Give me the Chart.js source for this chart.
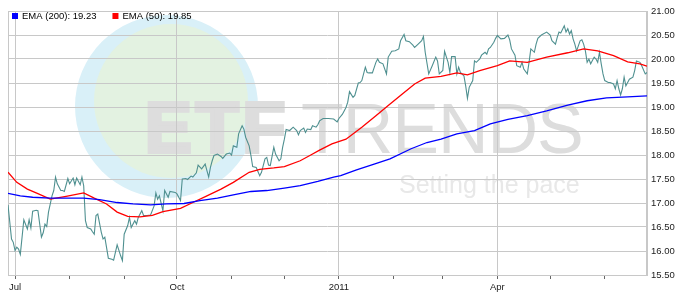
<!DOCTYPE html>
<html>
<head>
<meta charset="utf-8">
<script src="https://cdn.jsdelivr.net/npm/chart.js@4.4.1/dist/chart.umd.min.js"></script>
<style>
  html, body { margin: 0; padding: 0; background: #fff; }
  #wrap { width: 680px; height: 294px; }
</style>
</head>
<body>
<div id="wrap"><canvas id="etfChart"></canvas></div>
<script>
// x values are calendar days counted from 1 Jul 2010
const xMin = -4;
const xMax = 359;

const monthDays = [0, 31, 62, 92, 123, 153, 184, 215, 243, 274, 304, 335];
const monthLabels = ['Jul', '', '', 'Oct', '', '', '2011', '', '', 'Apr', '', ''];
const yTicks = [15.5, 16, 16.5, 17, 17.5, 18, 18.5, 19, 19.5, 20, 20.5, 21];

const priceDays = [
  -4, -2, -1, 0, 1, 2, 3, 5, 7, 8, 9, 10, 12, 13, 15, 16, 17, 18, 19, 21,
  22, 23, 24, 26, 27, 28, 30, 31, 33, 34, 35, 37, 38, 39, 40, 41, 43, 44, 45, 46,
  47, 49, 50, 51, 53, 55, 56, 58, 60, 61, 62, 64, 65, 66, 68, 69, 70, 72, 73, 75,
  77, 79, 80, 81, 82, 84, 85, 87, 88, 91, 92, 94, 95, 97, 98, 100, 101, 103, 104, 106,
  108, 110, 111, 112, 113, 115, 117, 118, 120, 122, 123, 124, 126, 127, 129, 130, 131, 133, 134, 135,
  137, 139, 140, 142, 143, 144, 145, 147, 148, 150, 151, 152, 153, 154, 156, 158, 160, 161, 162, 164,
  165, 166, 168, 169, 171, 172, 173, 175, 178, 181, 183, 184, 186, 188, 189, 190, 192, 193, 195, 196,
  197, 199, 200, 201, 203, 205, 206, 207, 209, 211, 212, 214, 216, 218, 219, 221, 222, 224, 226, 227,
  229, 231, 232, 233, 235, 237, 239, 240, 241, 243, 244, 246, 247, 248, 250, 251, 252, 253, 255, 256,
  257, 258, 260, 261, 262, 264, 265, 267, 268, 269, 270, 272, 273, 274, 276, 278, 280, 281, 282, 284,
  285, 287, 288, 289, 291, 292, 293, 295, 296, 297, 299, 302, 304, 305, 307, 308, 309, 310, 312, 313,
  314, 315, 316, 317, 318, 319, 321, 322, 323, 324, 325, 326, 327, 329, 330, 331, 332, 333, 334, 335,
  337, 338, 340, 341, 342, 343, 344, 345, 346, 347, 348, 349, 351, 352, 353, 355, 356, 358, 359
];
const priceValues = [
  16.96, 16.25, 16.18, 16.01, 16.08, 16.04, 15.93, 16.65, 16.46, 16.65, 16.48, 16.83, 16.85, 16.84, 16.29, 16.38, 16.56, 16.51, 16.81, 17.15,
  17.26, 17.54, 17.40, 17.26, 17.26, 17.24, 17.51, 17.40, 17.52, 17.38, 17.52, 17.38, 17.54, 17.36, 16.63, 16.49, 16.46, 16.40, 16.35, 16.74,
  16.77, 16.39, 16.25, 16.29, 15.85, 15.83, 15.81, 16.13, 15.90, 15.80, 16.35, 16.53, 16.70, 16.49, 16.63, 16.56, 16.70, 16.84, 16.74, 16.74,
  16.75, 16.94, 17.21, 17.08, 17.15, 16.84, 17.26, 17.12, 17.24, 17.22, 17.19, 17.05, 17.50, 17.51, 17.49, 17.56, 17.54, 17.63, 17.79, 17.71,
  17.81, 17.54, 17.74, 17.88, 17.99, 18.02, 17.97, 17.93, 18.02, 18.04, 18.00, 18.19, 18.16, 18.44, 18.61, 18.54, 18.37, 18.19, 17.99, 17.76,
  17.74, 17.57, 17.64, 17.92, 17.95, 17.79, 17.78, 18.16, 18.02, 17.88, 17.92, 18.16, 18.33, 18.53, 18.51, 18.58, 18.51, 18.42, 18.51, 18.56,
  18.47, 18.54, 18.53, 18.61, 18.58, 18.63, 18.71, 18.76, 18.76, 18.75, 18.69, 18.76, 18.85, 18.99, 19.10, 19.32, 19.20, 19.24, 19.50, 19.51,
  19.55, 19.83, 19.72, 19.71, 19.71, 19.93, 20.00, 19.93, 19.90, 19.69, 20.04, 20.16, 20.17, 20.21, 20.38, 20.51, 20.38, 20.36, 20.29, 20.24,
  20.31, 20.38, 20.47, 20.14, 19.69, 19.86, 20.04, 19.96, 19.69, 19.76, 20.16, 19.93, 19.72, 20.05, 20.05, 19.69, 19.83, 19.72, 19.65, 19.44,
  19.18, 19.41, 19.55, 19.96, 19.93, 20.00, 20.08, 20.14, 20.10, 20.21, 20.24, 20.35, 20.43, 20.49, 20.42, 20.43, 20.50, 20.40, 20.21, 20.08,
  19.86, 19.83, 19.93, 19.79, 19.69, 19.93, 20.21, 20.14, 20.31, 20.43, 20.50, 20.56, 20.50, 20.38, 20.31, 20.45, 20.56, 20.54, 20.69, 20.56,
  20.63, 20.52, 20.59, 20.42, 20.31, 20.17, 20.38, 20.40, 20.31, 20.17, 19.93, 20.00, 19.90, 20.04, 20.00, 19.93, 20.14, 19.90, 19.69, 19.55,
  19.51, 19.51, 19.48, 19.38, 19.55, 19.38, 19.25, 19.38, 19.62, 19.44, 19.51, 19.58, 19.62, 19.76, 19.96, 19.93, 19.86, 19.69, 19.72
];

const ema200Days = [-4, 3, 10, 20, 29, 39, 48, 58, 67, 77, 86, 96, 105, 115, 124, 134, 143, 153, 162, 172,
  181, 185, 194, 204, 213, 225, 234, 242, 251, 261, 270, 280, 291, 302, 314, 325, 336, 348, 359];
const ema200Values = [17.20, 17.15, 17.12, 17.10, 17.10, 17.10, 17.07, 17.01, 16.98, 16.96, 16.98, 16.99, 17.05, 17.10, 17.17, 17.24, 17.26, 17.31, 17.36, 17.45,
  17.54, 17.57, 17.69, 17.81, 17.92, 18.13, 18.26, 18.33, 18.44, 18.51, 18.65, 18.74, 18.82, 18.92, 19.04, 19.13, 19.19, 19.21, 19.23];

const ema50Days = [-4, 1, 7, 12, 20, 29, 39, 45, 52, 58, 64, 71, 78, 84, 94, 101, 109, 117, 124, 133,
  139, 147, 153, 162, 168, 173, 180, 188, 197, 205, 212, 220, 227, 233, 242, 251, 257, 264, 274, 281,
  291, 302, 314, 323, 331, 340, 348, 355, 359];
const ema50Values = [17.64, 17.43, 17.29, 17.21, 17.08, 17.14, 17.21, 17.10, 16.98, 16.81, 16.72, 16.71, 16.74, 16.82, 16.89, 17.01, 17.15, 17.29, 17.43, 17.64,
  17.70, 17.73, 17.76, 17.88, 18.00, 18.10, 18.23, 18.33, 18.58, 18.82, 19.03, 19.27, 19.48, 19.60, 19.64, 19.71, 19.67, 19.76, 19.86, 19.96,
  19.93, 20.04, 20.13, 20.21, 20.17, 20.07, 19.94, 19.90, 19.85];

const toPoints = (xs, ys) => xs.map((x, i) => ({ x: x, y: ys[i] }));
const last = arr => arr[arr.length - 1];

const FONT = '"Liberation Sans", Arial, sans-serif';
const gridColor = '#c8c8c8';

// logo watermark behind the grid, frame round the plot, legend inside it
const backdrop = {
  id: 'backdrop',
  beforeDraw(chart) {
    const c = chart.ctx;
    c.save();
    c.fillStyle = '#d9f0f8';
    c.beginPath();
    c.arc(166.5, 106.5, 91.5, 0, Math.PI * 2);
    c.fill();
    c.fillStyle = '#e3f2e1';
    c.beginPath();
    c.arc(171, 101, 77, 0, Math.PI * 2);
    c.fill();

    c.fillStyle = '#dddddd';
    c.strokeStyle = '#dddddd';
    c.textBaseline = 'alphabetic';
    c.font = 'bold 70px ' + FONT;
    c.letterSpacing = '4px';
    c.lineWidth = 4;
    c.lineJoin = 'miter';
    c.fillText('ETF', 145, 152);
    c.strokeText('ETF', 145, 152);
    c.font = '70px ' + FONT;
    c.letterSpacing = '-1px';
    c.fillText('TRENDS', 301, 153);
    c.letterSpacing = '0px';
    c.fillStyle = '#e8e8e8';
    c.font = '25px ' + FONT;
    c.fillText('Setting the pace', 399, 193);
    c.restore();
  },
  beforeDatasetsDraw(chart) {
    const a = chart.chartArea;
    const c = chart.ctx;
    c.save();
    c.strokeStyle = gridColor;
    c.lineWidth = 1;
    c.strokeRect(a.left + 0.5, a.top + 0.5, a.right - a.left - 1, a.bottom - a.top);
    c.restore();
  },
  afterDatasetsDraw(chart) {
    const a = chart.chartArea;
    const c = chart.ctx;
    c.save();
    c.font = '9.5px ' + FONT;
    c.textBaseline = 'middle';
    let x = a.left + 4;
    chart.data.datasets.slice(0, 2).forEach(ds => {
      c.fillStyle = ds.borderColor;
      c.fillRect(x, a.top + 2, 6, 6);
      c.fillStyle = '#000';
      c.fillText(ds.label, x + 10, a.top + 5.5);
      x += 10 + c.measureText(ds.label).width + 16;
    });
    c.restore();
  }
};

const ctx = document.getElementById('etfChart');

new Chart(ctx, {
  type: 'line',
  data: {
    datasets: [
      {
        label: 'EMA (200): ' + last(ema200Values).toFixed(2),
        data: toPoints(ema200Days, ema200Values),
        borderColor: '#0000ff',
        borderWidth: 1.3,
        pointRadius: 0
      },
      {
        label: 'EMA (50): ' + last(ema50Values).toFixed(2),
        data: toPoints(ema50Days, ema50Values),
        borderColor: '#ff0000',
        borderWidth: 1.3,
        pointRadius: 0
      },
      {
        label: 'Price',
        data: toPoints(priceDays, priceValues),
        borderColor: '#4f9090',
        borderWidth: 1.1,
        pointRadius: 0
      }
    ]
  },
  options: {
    responsive: true,
    maintainAspectRatio: false,
    animation: false,
    devicePixelRatio: 1,
    layout: { padding: { left: 8, top: 11, right: 0, bottom: 0 } },
    plugins: {
      tooltip: { enabled: false },
      legend: { display: false }
    },
    scales: {
      x: {
        type: 'linear',
        min: xMin,
        max: xMax,
        afterBuildTicks: s => { s.ticks = monthDays.map(v => ({ value: v })); },
        afterFit: s => { s.height = 19; },
        ticks: {
          autoSkip: false,
          maxRotation: 0,
          padding: 3,
          color: '#222',
          font: { family: FONT, size: 9.5 },
          callback: v => monthLabels[monthDays.indexOf(v)] || ''
        },
        grid: {
          color: c => (c.tick && monthLabels[monthDays.indexOf(c.tick.value)]) ? gridColor : 'rgba(0,0,0,0)',
          tickColor: '#666',
          tickLength: 4
        },
        border: { color: gridColor }
      },
      y: {
        position: 'right',
        min: 15.5,
        max: 21,
        afterBuildTicks: s => { s.ticks = yTicks.map(v => ({ value: v })); },
        afterFit: s => { s.width = 33; },
        ticks: {
          padding: 4,
          color: '#222',
          font: { family: FONT, size: 9.5 },
          callback: v => v.toFixed(2)
        },
        grid: { color: gridColor, drawTicks: false },
        border: { color: gridColor }
      }
    }
  },
  plugins: [backdrop]
});
</script>
</body>
</html>
